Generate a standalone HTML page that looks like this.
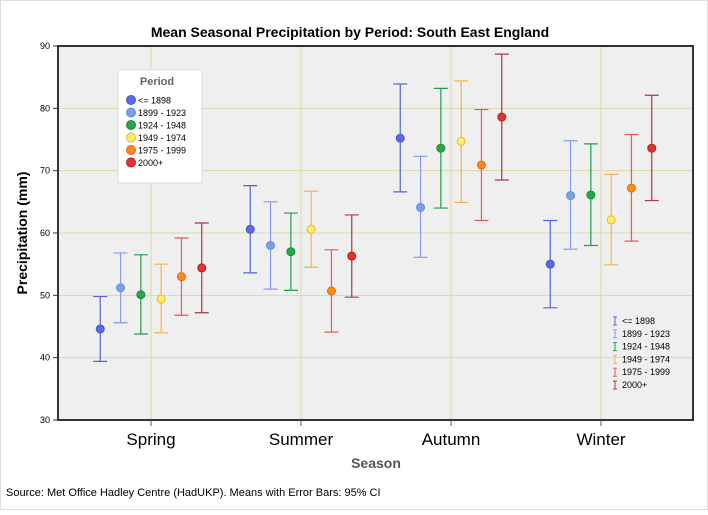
<!DOCTYPE html>
<html><head><meta charset="utf-8"><style>
body{margin:0;background:#fff;font-family:"Liberation Sans",sans-serif}
svg text{font-family:"Liberation Sans",sans-serif}
</style></head><body>
<svg id="c" width="708" height="510">
<rect x="0.5" y="0.5" width="707" height="509" fill="#fff" stroke="#ddd"/>
<text x="350" y="37" text-anchor="middle" font-size="14" font-weight="bold">Mean Seasonal Precipitation by Period: South East England</text>
<rect x="58" y="46" width="635" height="374" fill="#efefef" stroke="#333" stroke-width="2"/>
<g id="grid"></g>
<g id="marks"></g>
<text transform="translate(27,233) rotate(-90)" text-anchor="middle" font-size="14" font-weight="bold">Precipitation (mm)</text>
<text x="376" y="468" text-anchor="middle" font-size="14" font-weight="bold" fill="#555">Season</text>
<text x="6" y="496" font-size="11">Source: Met Office Hadley Centre (HadUKP). Means with Error Bars: 95% CI</text>
<g>
<rect x="118" y="70" width="84" height="113" fill="#fff" stroke="#ddd"/>
<text x="157" y="85" text-anchor="middle" font-size="11" font-weight="bold" fill="#666">Period</text>
<g id="leg1"></g></g>
<g id="leg2"></g>
</svg>
<script>
const categories=["Spring","Summer","Autumn","Winter"];
const periods=["<= 1898","1899 - 1923","1924 - 1948","1949 - 1974","1975 - 1999","2000+"];
const means=[[44.6,51.2,50.1,49.4,53.0,54.4],[60.6,58.0,57.0,60.6,50.7,56.3],[75.2,64.1,73.6,74.7,70.9,78.6],[55.0,66.0,66.1,62.1,67.2,73.6]];
const lows=[[39.4,45.6,43.8,44.0,46.8,47.2],[53.6,51.0,50.8,54.5,44.1,49.7],[66.6,56.1,64.0,64.9,62.0,68.5],[48.0,57.4,58.0,54.9,58.7,65.2]];
const highs=[[49.8,56.8,56.5,55.0,59.2,61.6],[67.6,65.0,63.2,66.7,57.3,62.9],[83.9,72.3,83.2,84.4,79.8,88.7],[62.0,74.8,74.3,69.4,75.8,82.1]];
const yTicks=[30,40,50,60,70,80,90];
const dotFill=["#5b6ae6","#7d9fe3","#27a64a","#fff060","#ff8a1c","#e23232"];
const dotStroke=["#4455cc","#6a8ad0","#1d8a3a","#f5b030","#e06a10","#b82020"];
const barCol=["#5565d8","#8a98f0","#249a52","#f2b450","#e45a5a","#a83a48"];
const ns="http://www.w3.org/2000/svg";
const y=v=>420-(v-30)*374/60;
const x=(c,p)=>151+150*c+(p-2.5)*20.3;
function mk(t,a,par){const e=document.createElementNS(ns,t);for(const k in a)e.setAttribute(k,a[k]);document.getElementById(par).appendChild(e);return e;}
yTicks.forEach(t=>{
 if(t>30&&t<90){const g=mk("line",{x1:59,x2:692,y1:y(t),y2:y(t),stroke:"#ddd8a8"},"grid");
 
 }
 mk("line",{x1:53,x2:58,y1:y(t),y2:y(t),stroke:"#333"},"grid");
 const l=mk("text",{x:50,y:y(t)+3,"text-anchor":"end","font-size":9},"grid");l.textContent=t;
 
 
});
categories.forEach((c,i)=>{
 const cx=151+150*i;
 mk("line",{x1:cx,x2:cx,y1:47,y2:419,stroke:"#ddd8a8"},"grid");
 mk("line",{x1:cx,x2:cx,y1:420,y2:426,stroke:"#555"},"grid");
 const l=mk("text",{x:cx,y:445,"text-anchor":"middle","font-size":17},"grid");l.textContent=c;
 
 
 periods.forEach((p,j)=>{
  const px=x(i,j),col=barCol[j];
  const g=mk("g",{},"marks");
  
  
  const a={stroke:col,"stroke-width":1.2};
  let e=document.createElementNS(ns,"path");
  e.setAttribute("d",`M${px},${y(lows[i][j])}V${y(highs[i][j])}M${px-7},${y(lows[i][j])}h14M${px-7},${y(highs[i][j])}h14`);
  for(const k in a)e.setAttribute(k,a[k]);g.appendChild(e);
  const d=document.createElementNS(ns,"circle");
  d.setAttribute("cx",px);d.setAttribute("cy",y(means[i][j]));d.setAttribute("r",4);
  d.setAttribute("fill",dotFill[j]);d.setAttribute("stroke",dotStroke[j]);g.appendChild(d);
 });
});
periods.forEach((p,j)=>{
 const yy=100+j*12.5;
 mk("circle",{cx:131,cy:yy,r:4.5,fill:dotFill[j],stroke:dotStroke[j]},"leg1");
 const t=mk("text",{x:138,y:yy+3.5,"font-size":9},"leg1");t.textContent=p;
 
 
 const y2=321+j*12.8;
 mk("path",{d:`M615,${y2-4}V${y2+4}M613,${y2-4}h4M613,${y2+4}h4`,stroke:barCol[j]},"leg2");
 const t2=mk("text",{x:622,y:y2+3,"font-size":9},"leg2");t2.textContent=p;
 
 
});
</script>
</body></html>
